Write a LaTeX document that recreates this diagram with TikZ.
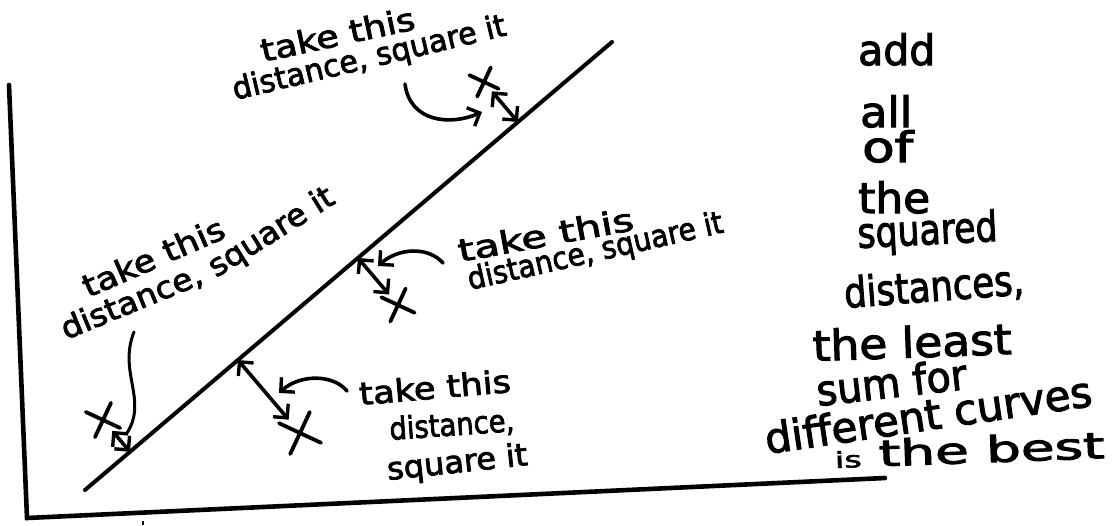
\documentclass[tikz,border=0pt]{standalone}
\usepackage{fontspec}
\setmainfont{DejaVu Sans}[FakeBold=2.5]
\usepackage{graphicx}
\usetikzlibrary{arrows.meta,calc,shapes.misc}
\newcommand{\hw}[2]{\resizebox{#1pt}{\height}{#2}}
\begin{document}
\begin{tikzpicture}[x=1pt,y=-1pt,
  pen/.style={line width=4pt, line cap=round, line join=round},
  barb/.tip={Straight Barb[length=10pt,width=20pt,line width=3.4pt]},
  dist/.style={pen, line width=3.6pt, barb-barb},
  pointer/.style={pen, line width=3.6pt, -barb},
  datum/.style={draw, cross out, line width=3.8pt, line cap=round, inner sep=0pt, rotate=20},
  lbl/.style={anchor=base west, inner sep=0pt, font=\fontsize{31}{33}\selectfont},
  big/.style={anchor=base west, inner sep=0pt, font=\fontsize{42}{46}\selectfont},
]
\fill[white] (0,0) rectangle (1112,525);

% axes
\coordinate (ytop) at (9,85);
\coordinate (orig) at (27,518);
\coordinate (xend) at (885,478);
\draw[line width=4.6pt, line cap=round, line join=miter] (ytop) -- (orig) -- (xend);
\coordinate (tk0) at (143,521);
\coordinate (tk1) at (143,525);
\draw[line width=1.8pt] (tk0) -- (tk1);

% fitted line
\coordinate (l0) at (85,490);
\coordinate (l1) at (612,42);
\draw[pen] (l0) -- (l1);

% data points
\node[datum, minimum size=19pt] (p1) at (484,82) {};
\node[datum, minimum size=22pt] (p2) at (398,305) {};
\node[datum, minimum size=29pt] (p3) at (300,433) {};
\node[datum, minimum size=23pt] (p4) at (103,420) {};

\coordinate (f1) at ($(l0)!(p1)!(l1)$);
\coordinate (f2) at ($(l0)!(p2)!(l1)$);
\coordinate (f3) at ($(l0)!(p3)!(l1)$);
\coordinate (f4) at ($(l0)!(p4)!(l1)$);

\draw[dist] (p1) -- (f1);
\draw[dist] (p2) -- (f2);
\draw[dist] (p3) -- (f3);
\draw[dist] (p4) -- (f4);

% pointers from labels
\coordinate (c1s) at (405,84);
\coordinate (c1e) at (482,112);
\draw[pointer] (c1s) .. controls (410,122) and (450,126) .. (c1e);
\coordinate (c2s) at (443,263);
\coordinate (c2e) at (378,266);
\draw[pointer] (c2s) .. controls (428,246) and (398,248) .. (c2e);
\coordinate (c3s) at (347,391);
\coordinate (c3e) at (279,393);
\draw[pointer] (c3s) .. controls (333,374) and (300,374) .. (c3e);
\coordinate (c4s) at (134,332);
\coordinate (c4e) at (127,433);
\draw[pen, line width=3pt] (c4s) .. controls (118,372) and (148,400) .. (c4e);

% labels
\node[lbl, rotate=12.1] (t1) at (263,62) {\hw{157}{take this}};
\node[lbl, rotate=13.4] (t2) at (235,100) {\hw{280}{distance, square it}};
\node[lbl, rotate=23.6] (la) at (88,298) {\hw{152}{take this}};
\node[lbl, rotate=22.4] (lb) at (66,340) {\hw{150}{distance,}};
\node[lbl, rotate=32] (lc) at (216,278) {\hw{142}{square it}};
\node[lbl, rotate=10.4] (m1) at (460,262) {\hw{178}{take this}};
\node[lbl, rotate=12.8] (m2) at (470,290) {\hw{261}{distance, square it}};
\node[lbl, rotate=4.9] (b1) at (360,405) {\hw{152}{take this}};
\node[lbl, rotate=4.1] (b2) at (390,440) {\hw{125}{distance,}};
\node[lbl, rotate=6.1] (b3) at (388,480) {\hw{141}{square it}};

% right column
\node[big] (r1) at (858,65) {\hw{77}{add}};
\node[big] (r2) at (860,127) {\hw{52}{all}};
\node[big] (r3) at (862,162) {\hw{51}{of}};
\node[big] (r4) at (858,213) {\hw{72}{the}};
\node[big, rotate=2.9] (r5) at (858,248) {\hw{140}{squared}};
\node[big, rotate=4.4] (r6) at (845,308) {\hw{180}{distances,}};
\node[big, rotate=2] (r7) at (813,361) {\hw{199}{the least}};
\node[big, rotate=6.5] (r8) at (818,406) {\hw{151}{sum for}};
\node[big, rotate=8.4] (r9) at (767,454) {\hw{330}{different curves}};
\node[big, rotate=2.1, font=\fontsize{36}{40}\selectfont] (r10) at (835,468) {\hw{270}{{\fontsize{22}{22}\selectfont is} the best}};
\end{tikzpicture}
\end{document}
